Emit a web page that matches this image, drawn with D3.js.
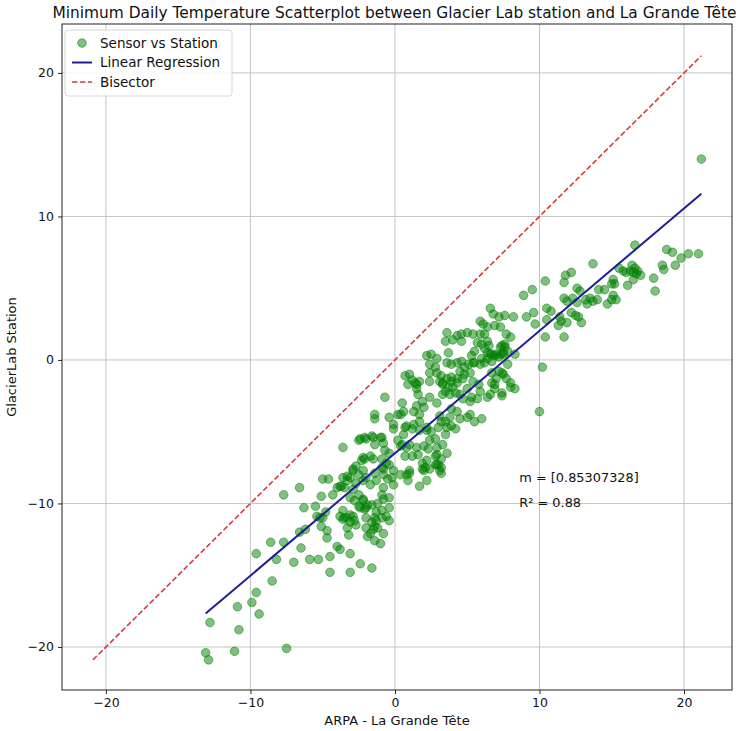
<!DOCTYPE html>
<html>
<head>
<meta charset="utf-8">
<script src="https://cdn.jsdelivr.net/npm/d3@7"></script>
<style>
  body { margin: 0; background: #fff; }
  text { font-family: "DejaVu Sans", sans-serif; fill: #111; }
</style>
</head>
<body>
<div id="chart"></div>
<script>

// [ARPA - La Grande Tête, GlacierLab Station] minimum daily temperatures
const readings = [
  [-13.1,-20.4],[-12.9,-20.9],[-11.1,-20.3],[-7.5,-20.1],[-12.8,-18.3],[-10.8,-18.8],[-10.9,-17.2],[-9.9,-16.9],
  [-9.4,-17.7],[-9.6,-16.2],[-8.5,-15.4],[-9.6,-13.5],[-8.6,-12.7],[-7.7,-12.7],[-8.2,-13.9],[-6.5,-13.1],
  [-7.0,-14.1],[-5.9,-13.9],[-5.3,-13.9],[-4.5,-13.7],[-4.0,-13.0],[-3.8,-13.2],[-3.1,-13.5],[-2.4,-14.2],
  [-1.6,-14.5],[-1.0,-12.8],[-1.7,-12.1],[-0.8,-12.1],[-1.4,-11.6],[-4.5,-14.8],[-3.1,-14.8],[-3.3,-11.7],
  [-3.2,-12.2],[-4.7,-11.9],[-4.7,-12.4],[-5.1,-11.6],
  [-7.7,-9.4],[-6.6,-8.9],[-6.3,-10.3],[-5.5,-10.2],[-5.1,-9.5],[-5.0,-8.3],[-4.6,-8.3],[-5.2,-11.0],
  [-4.3,-9.4],[-4.0,-8.9],[-3.7,-8.8],[-3.8,-10.9],[-3.5,-11.0],[-3.1,-10.8],[-3.6,-6.1],[-3.3,-8.4],
  [-3.1,-8.2],[-2.9,-7.7],[-2.7,-7.4],[-2.3,-7.0],[-2.1,-6.9],[-2.5,-5.6],[-2.0,-5.5],[-1.5,-5.4],
  [-0.9,-5.4],[-2.2,-6.8],[-1.7,-6.7],[-1.5,-6.9],[-2.9,-9.0],[-2.5,-9.4],[-2.2,-9.7],[-1.9,-10.1],
  [-2.1,-10.4],[-2.4,-10.3],[-2.7,-8.6],[-2.2,-8.4],[-1.7,-8.7],[-1.3,-8.4],[-0.8,-8.9],[-0.9,-9.4],
  [-1.4,-11.0],[-1.2,-11.7],[-0.8,-9.7],[-0.4,-9.6],[-2.7,-11.5],[-2.0,-11.7],[-0.7,-2.6],[-1.4,-3.8],
  [-1.4,-4.1],[-0.4,-4.0],[-0.1,-4.5],[-0.1,-4.8],[0.2,-5.6],[0.4,-6.0],[0.8,-6.1],[-0.4,-6.5],
  [-0.7,-6.3],[-0.9,-6.9],[-0.6,-7.2],[-0.9,-7.5],[-0.1,-7.7],[0.4,-8.0],[0.8,-8.0],[0.9,-8.4],
  [1.7,-8.8],[-0.1,-8.7],[0.5,-3.0],[0.6,-3.6],[0.4,-3.8],[1.6,-2.4],[1.9,-2.9],[1.5,-3.2],
  [2.4,-2.6],[2.9,-3.0],[3.3,-2.4],[1.5,-1.7],[2.4,-1.5],[3.3,-1.6],[1.3,-4.5],[1.7,-4.3],
  [2.2,-4.7],[2.5,-5.0],[1.0,-5.9],[1.5,-6.1],[2.0,-6.0],[2.9,-6.6],[3.2,-6.9],[2.9,-7.3],
  [1.9,-7.2],[2.1,-7.5],[2.0,-7.7],[3.1,-7.7],[3.2,-7.9],[3.5,-5.2],[3.6,-4.7],[3.2,-4.3],
  [0.6,-5.2],[0.7,-4.7],
  [0.7,-1.1],[1.0,-1.0],[1.2,-1.4],[0.9,-1.7],[1.4,-1.6],[1.7,-1.5],[1.5,-2.0],[2.2,0.3],
  [2.5,0.4],[2.9,0.1],[2.4,-0.3],[2.8,-0.5],[2.4,-0.9],[2.9,-0.9],[3.2,-1.1],[3.1,-1.5],
  [3.5,1.3],[3.7,0.5],[3.6,-0.2],[3.9,-0.3],[4.3,-0.2],[3.6,-1.3],[3.9,-1.5],[4.3,-1.3],
  [4.0,-1.9],[3.5,-2.2],[3.8,-2.4],[4.2,-2.3],[4.5,-2.4],[4.7,-2.7],[5.2,-2.9],[3.9,-3.4],
  [4.3,-3.6],[3.8,-4.0],[3.1,-3.9],[3.5,-4.3],[3.9,-4.6],[4.2,-4.8],[5.2,-3.8],[5.5,-4.3],
  [6.0,-4.1],[4.0,1.4],[4.3,1.7],[4.6,1.3],[3.6,1.9],[4.6,1.8],[5.0,1.9],[5.4,1.8],
  [5.9,1.8],[5.9,2.7],[6.1,2.5],[6.4,2.3],[6.2,1.8],[5.7,1.2],[6.0,1.1],[6.4,1.3],
  [6.2,0.8],[5.9,-0.3],[6.2,-0.2],[6.6,0.4],[6.9,0.3],[7.3,0.4],[5.4,-0.2],[5.1,-0.3],
  [4.8,-0.5],[4.5,-0.8],[4.8,-1.0],[5.3,0.3],[5.5,0.6],[6.6,3.6],[6.8,3.2],[7.2,3.0],
  [6.9,2.4],[7.3,2.3],[7.7,1.8],[8.0,1.6],[7.6,1.1],[7.3,0.9],[7.5,0.5],[7.6,3.1],
  [8.2,3.0],[7.2,-0.8],[7.5,-1.0],[8.0,-1.6],[8.3,-2.0],[6.9,-1.7],[7.4,-2.5],[7.8,-0.3],
  [10.2,-0.5],[10.0,-3.6],[5.3,-2.6],[5.7,-2.7],[4.5,-4.1],[5.0,-4.0],[1.3,-3.6],[2.0,-3.3],
  [0.8,-4.6],[1.2,-4.8],[1.7,-4.9],[2.2,-4.9],[3.0,-4.7],[2.4,-5.6],[2.8,-5.5],[2.3,-6.2],
  [2.9,-6.1],[3.3,-5.9],[3.6,-6.5],[2.8,-6.7],[3.0,-7.3],[3.2,-7.5],[1.0,-7.9],[-0.8,-8.0],
  [-0.5,-8.3],[2.2,-8.4],
  [16.6,8.0],[18.8,7.7],[19.2,7.5],[19.8,7.1],[20.3,7.4],[21.0,7.4],[13.7,6.7],[16.4,6.6],
  [16.6,6.4],[16.8,6.2],[16.5,6.1],[16.3,6.2],[16.0,6.1],[15.8,6.2],[15.5,6.4],[15.1,5.6],
  [15.2,5.3],[15.0,5.3],[16.1,5.2],[16.5,5.6],[17.0,5.9],[16.7,6.0],[17.9,5.7],[18.5,6.6],
  [18.6,6.3],[19.4,6.6],[18.0,4.8],[12.2,6.1],[11.8,5.9],[11.7,5.4],[10.4,5.5],[9.5,4.9],
  [8.9,4.5],[12.6,5.0],[12.8,4.8],[11.7,4.3],[11.9,4.1],[12.3,4.3],[12.6,4.0],[13.2,4.2],
  [13.5,4.3],[13.7,4.1],[13.3,3.9],[14.0,4.2],[14.1,4.9],[14.5,4.9],[15.1,4.5],[15.0,4.2],
  [15.3,4.2],[14.7,3.9],[10.5,3.6],[10.8,3.4],[9.6,3.3],[9.1,3.0],[9.7,2.5],[10.5,2.8],
  [11.4,3.0],[11.5,2.7],[11.9,2.6],[11.3,2.4],[12.2,3.3],[12.5,3.1],[12.7,3.0],[12.9,2.6],
  [10.4,1.6],[11.7,1.6],[8.3,0.4],[7.8,0.6],[21.2,14.0],
  [0.2,-3.8],[1.7,-3.8],[-2.4,-5.5],[-2.1,-5.4],[-1.6,-5.3],[-1.0,-5.4],[-0.8,-5.8],[-1.4,-5.9],
  [0.5,-5.9],[0.7,-6.7],[1.2,-6.7],[1.6,-6.6],[-3.3,-8.1],[-2.9,-7.6],[-2.5,-8.0],[-2.2,-7.7],
  [-2.0,-8.2],[-1.4,-7.9],[-0.8,-7.6],[-0.4,-7.3],[-0.2,-8.2],[1.0,-7.7],[1.9,-7.6],[2.2,-7.0],
  [2.4,-7.6],[2.8,-7.3],
  [6.5,1.0],[7.4,1.0],[7.6,0.9],[7.5,0.4],[7.0,0.4],[6.7,0.4],[6.4,0.5],[4.6,-0.1],
  [5.5,-0.2],[6.0,0.1],[6.4,0.1],[6.7,-0.1],[7.2,0.2],[3.9,-1.2],[3.3,-1.7],[3.7,-1.9],
  [4.3,-1.6],[4.7,-1.3],[5.2,-0.9],[5.4,-1.5],[5.8,-1.7],[5.0,-2.0],[5.9,-2.2],[6.7,-0.9],
  [7.4,-0.9],[7.0,-1.3],[7.7,-1.3],[6.7,-1.6],[6.9,-2.0],[7.4,-2.3],[8.0,-1.9],[6.4,-2.6],
  [6.6,-2.4],
  [-3.6,-8.2],[-3.8,-8.8],[-3.5,-8.9],[-3.1,-9.6],[-2.8,-9.8],[-2.5,-10.2],[-2.2,-9.8],[-2.0,-10.3],
  [-1.6,-10.1],[-1.2,-10.0],[-0.9,-10.5],[-1.3,-10.6],[-5.4,-10.9],[-5.0,-11.0],[-4.8,-10.6],[-3.6,-10.5],
  [-3.3,-11.0],[-2.9,-10.9],[-2.8,-11.2],[-3.1,-11.3],[-3.6,-11.1],[-2.0,-11.0],[-1.6,-11.3],[-1.3,-11.2],
  [-0.9,-11.0],[-0.6,-10.9],[-1.5,-11.8],[-1.9,-12.3],[-1.4,-12.6],[-0.4,-10.3],[-0.4,-11.2],[-6.6,-12.0],
  [-6.2,-11.8]
];

const xTicks = [-20, -10, 0, 10, 20];
const yTicks = [-20, -10, 0, 10, 20];
const legendLabels = ["Sensor vs Station", "Linear Regression", "Bisector"];

const slope = 0.85307328;
const intercept = -6.5;
const rSquared = 0.88;

let margin = { top: 24, right: 14, bottom: 41, left: 62 },
  width = 746 - margin.left - margin.right,
  height = 731 - margin.top - margin.bottom;

let x = d3.scaleLinear().domain([-23.04, 23.32]).range([0, width]);
let y = d3.scaleLinear().domain([-23.0, 23.41]).range([height, 0]);

let root = d3.select("#chart")
  .append("svg")
  .attr("width", 746)
  .attr("height", 731);

let svg = root.append("g")
  .attr("transform", "translate(" + margin.left + "," + margin.top + ")");

// grid
svg.append("g").selectAll("line")
  .data(xTicks).enter().append("line")
  .attr("x1", d => x(d)).attr("x2", d => x(d))
  .attr("y1", 0).attr("y2", height)
  .attr("stroke", "#c4c4c4").attr("stroke-width", 1);
svg.append("g").selectAll("line")
  .data(yTicks).enter().append("line")
  .attr("y1", d => y(d)).attr("y2", d => y(d))
  .attr("x1", 0).attr("x2", width)
  .attr("stroke", "#c4c4c4").attr("stroke-width", 1);

// scatter
svg.append("g").selectAll("circle")
  .data(readings).enter().append("circle")
  .attr("cx", d => x(d[0]))
  .attr("cy", d => y(d[1]))
  .attr("r", 4.3)
  .attr("fill", "#008000").attr("fill-opacity", 0.5)
  .attr("stroke", "#008000").attr("stroke-opacity", 0.5).attr("stroke-width", 1);

// regression line over the data range
let xExtent = d3.extent(readings, d => d[0]);
svg.append("line")
  .attr("x1", x(xExtent[0])).attr("y1", y(slope * xExtent[0] + intercept))
  .attr("x2", x(xExtent[1])).attr("y2", y(slope * xExtent[1] + intercept))
  .attr("stroke", "#1c1c9a").attr("stroke-width", 2);

// bisector y = x
let lo = Math.min(d3.min(readings, d => d[0]), d3.min(readings, d => d[1]));
let hi = Math.max(d3.max(readings, d => d[0]), d3.max(readings, d => d[1]));
svg.append("line")
  .attr("x1", x(lo)).attr("y1", y(lo))
  .attr("x2", x(hi)).attr("y2", y(hi))
  .attr("stroke", "#d63a3a").attr("stroke-width", 1.6)
  .attr("stroke-dasharray", "5.5,2.5");

// axes
let xAxis = svg.append("g")
  .attr("transform", "translate(0," + height + ")")
  .call(d3.axisBottom(x).tickValues(xTicks).tickSize(4).tickPadding(4));
let yAxis = svg.append("g")
  .call(d3.axisLeft(y).tickValues(yTicks).tickSize(4).tickPadding(4));
[xAxis, yAxis].forEach(a => {
  a.select(".domain").remove();
  a.selectAll("text").style("font-size", "12.5px").style("font-family", "DejaVu Sans").attr("fill", "#111");
  a.selectAll("line").attr("stroke", "#222");
});

svg.append("rect")
  .attr("width", width).attr("height", height)
  .attr("fill", "none").attr("stroke", "#222").attr("stroke-width", 1);

// annotations
svg.append("text")
  .attr("x", x(8.6)).attr("y", y(-8.5))
  .style("font-size", "12.9px")
  .text("m = [" + slope + "]");
svg.append("text")
  .attr("x", x(8.6)).attr("y", y(-10.25))
  .style("font-size", "12.9px")
  .text("R² = " + rSquared);

// title and labels
root.append("text")
  .attr("x", 394.5).attr("y", 18)
  .style("text-anchor", "middle").style("font-size", "15px")
  .attr("textLength", 684).attr("lengthAdjust", "spacingAndGlyphs")
  .text("Minimum Daily Temperature Scatterplot between Glacier Lab station and La Grande Tête");
root.append("text")
  .attr("x", margin.left + width / 2).attr("y", 725)
  .style("text-anchor", "middle").style("font-size", "13px")
  .text("ARPA - La Grande Tête");
root.append("text")
  .attr("transform", "translate(16," + (margin.top + height / 2) + ") rotate(-90)")
  .style("text-anchor", "middle").style("font-size", "13px")
  .text("GlacierLab Station");

// legend
let legend = svg.append("g").attr("transform", "translate(3,6)");
legend.append("rect")
  .attr("width", 167).attr("height", 66).attr("rx", 3)
  .attr("fill", "#fff").attr("fill-opacity", 0.85)
  .attr("stroke", "#d6d6d6");
legendLabels.forEach((label, i) => {
  let cy = 13 + i * 19.5;
  if (i === 0) {
    legend.append("circle").attr("cx", 17).attr("cy", cy).attr("r", 4.3)
      .attr("fill", "#008000").attr("fill-opacity", 0.5)
      .attr("stroke", "#008000").attr("stroke-opacity", 0.5);
  } else {
    legend.append("line")
      .attr("x1", 7).attr("x2", 27).attr("y1", cy).attr("y2", cy)
      .attr("stroke", i === 1 ? "#1c1c9a" : "#d63a3a")
      .attr("stroke-width", i === 1 ? 2 : 1.6)
      .attr("stroke-dasharray", i === 1 ? null : "5.5,2.5");
  }
  legend.append("text")
    .attr("x", 35).attr("y", cy).attr("dy", "0.35em")
    .style("font-size", "13.5px")
    .text(label);
});

</script>
</body>
</html>
